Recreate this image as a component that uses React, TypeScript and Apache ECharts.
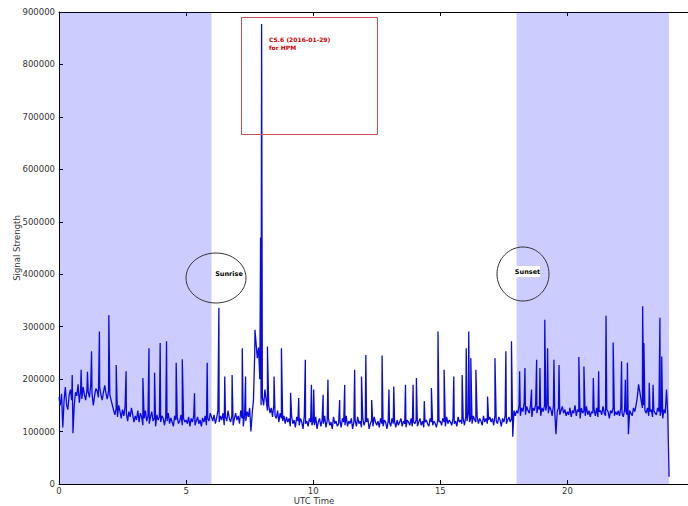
import React, { useEffect, useRef } from "react";
import * as echarts from "echarts";

// Baseline signal (thousands), sampled every 0.05 h, one row per hour
const baselineStep = 0.05;
const baselineK: number[] = [
  165,150,172,108,160,185,150,142,170,180,160,97,150,175,168,190,155,178,162,185,
  170,160,180,175,165,190,172,150,168,182,178,165,185,170,160,175,188,172,162,178,
  170,160,150,140,132,145,128,150,138,125,142,130,148,135,120,138,128,145,132,118,
  130,122,140,118,135,128,112,125,140,120,130,115,128,138,120,125,110,132,122,128,
  118,130,125,112,128,120,135,115,126,118,110,130,122,128,115,120,132,112,125,118,
  122,115,128,110,125,118,130,112,120,128,115,122,110,126,118,130,112,125,120,135,
  128,120,132,115,125,140,118,130,122,135,112,128,120,140,125,118,130,112,125,135,
  122,130,115,140,125,110,132,120,138,128,145,100,135,160,250,270,240,260,200,150,
  165,150,180,160,140,150,135,145,128,150,130,125,140,118,135,125,120,130,115,128,
  118,125,110,130,115,122,108,128,120,112,125,118,105,130,115,120,110,125,118,112,
  120,112,128,105,118,125,110,122,115,130,108,120,125,112,118,105,128,115,120,110,
  115,122,108,125,118,112,130,110,120,115,125,105,118,122,110,128,115,120,108,125,
  112,120,118,125,105,115,122,110,128,118,112,120,108,125,115,110,122,118,105,120,
  118,110,125,115,120,108,122,112,118,125,110,120,115,108,122,118,112,125,110,118,
  115,122,110,118,125,112,120,108,118,122,115,110,125,118,112,120,115,108,122,118,
  120,112,125,118,110,128,115,122,118,112,125,115,120,110,128,118,122,115,125,112,
  128,120,135,118,125,115,130,122,118,128,115,125,120,112,130,118,125,115,122,128,
  118,125,112,130,120,115,128,122,110,125,118,130,115,122,128,118,125,90,140,130,
  140,135,150,130,145,138,155,132,148,140,135,150,128,145,140,152,135,148,142,130,
  145,138,150,140,155,135,148,142,130,150,140,95,138,145,132,140,148,135,142,130,
  138,132,145,128,140,135,150,130,142,138,125,145,135,140,130,148,132,140,128,138,
  135,142,130,145,128,138,140,132,148,135,130,142,138,125,140,135,145,130,138,132,
  140,130,145,135,128,142,138,132,95,140,135,130,145,138,150,165,190,175,160,145,
  150,140,135,145,130,138,142,128,140,135,132,145,138,130,140,125,142,135,180,130,
  14,
];

// Spikes: [UTC hour, signal in thousands]
const spikesK: [number, number][] = [
  [0.52,208],[0.87,218],[1.12,214],[1.28,253],[1.59,291],[1.96,322],[2.25,227],[2.64,215],
  [3.3,202],[3.54,259],[3.76,212],[3.98,269],[4.23,272],[4.61,231],[4.85,238],[5.33,173],
  [5.83,231],[6.29,336],[6.52,205],[6.81,208],[7.21,259],[7.34,205],[7.71,294],[7.93,470],
  [7.97,877],[8.2,262],[8.46,205],[8.75,259],[9.11,174],[9.43,164],[9.69,237],[9.93,189],
  [10.02,180],[10.39,170],[10.58,199],[11.04,160],[11.24,189],[11.63,218],[11.9,205],[12.07,246],
  [12.3,160],[12.71,245],[12.98,180],[13.17,186],[13.63,189],[13.93,189],[14.06,202],[14.37,158],
  [14.65,183],[14.91,291],[15.15,218],[15.53,205],[15.86,208],[16.02,259],[16.12,291],[16.2,240],
  [16.4,218],[16.86,167],[17.15,240],[17.58,253],[17.8,272],[18.12,215],[18.33,221],[18.59,180],
  [18.79,237],[18.92,221],[19.11,313],[19.22,259],[19.47,237],[19.67,227],[20.45,242],[20.65,224],
  [21.02,202],[21.23,215],[21.52,321],[21.8,270],[22.13,234],[22.28,199],[22.36,231],[22.96,339],
  [23.01,269],[23.22,193],[23.37,189],[23.64,317],[23.71,243],
];

const nightSpans: [number, number][] = [[0, 6], [18, 24]];
const xTicks = { min: 0, max: 25, interval: 5 };
const yTicks = { min: 0, max: 900000, interval: 100000 };

export default function App() {
  const ref = useRef<HTMLDivElement>(null);
  useEffect(() => {
    if (!ref.current) return;
    const chart = echarts.init(ref.current, undefined, { renderer: "svg" });
    const pts: [number, number][] = baselineK.map((v, i) => [
      Math.round(i * baselineStep * 1000) / 1000,
      v * 1000,
    ]);
    spikesK.forEach(([t, v]) => pts.push([t, v * 1000]));
    pts.sort((a, b) => a[0] - b[0]);

    const font = "DejaVu Sans";
    const axisLabelStyle = { color: "#333", fontSize: 8.5, fontFamily: font };
    chart.setOption({
      animation: false,
      grid: {
        left: 59,
        right: 5.5,
        top: 12,
        bottom: 22,
        containLabel: false,
        outerBoundsMode: "none",
      },
      xAxis: [
        {
          type: "value",
          min: xTicks.min,
          max: xTicks.max,
          interval: xTicks.interval,
          axisLine: { lineStyle: { color: "#000", width: 1 } },
          axisTick: { inside: true, length: 4, lineStyle: { color: "#000" } },
          axisLabel: { ...axisLabelStyle, margin: 2, showMaxLabel: false },
          splitLine: { show: false },
        },
        {
          type: "value",
          position: "top",
          min: xTicks.min,
          max: xTicks.max,
          interval: xTicks.interval,
          axisLine: { lineStyle: { color: "#000", width: 1 } },
          axisTick: { inside: true, length: 4, lineStyle: { color: "#000" } },
          axisLabel: { show: false },
          splitLine: { show: false },
        },
      ],
      yAxis: {
        type: "value",
        min: yTicks.min,
        max: yTicks.max,
        interval: yTicks.interval,
        name: "Signal Strength",
        nameLocation: "middle",
        nameGap: 38,
        nameMoveOverlap: false,
        nameTextStyle: { ...axisLabelStyle },
        axisLine: { show: true, lineStyle: { color: "#000", width: 1 } },
        axisTick: { show: true, inside: true, length: 4, lineStyle: { color: "#000" } },
        axisLabel: { ...axisLabelStyle, margin: 4, formatter: (v: number) => String(v) },
        splitLine: { show: false },
      },
      series: [
        {
          type: "line",
          data: pts,
          showSymbol: false,
          symbol: "none",
          lineStyle: { color: "#0a0ae0", width: 1.3 },
          itemStyle: { color: "#0a0ae0" },
          markArea: {
            silent: true,
            itemStyle: { color: "rgba(0,0,255,0.2)" },
            data: nightSpans.map(([a, b]) => [{ xAxis: a }, { xAxis: b }]),
          },
        },
      ],
      graphic: [
        {
          type: "text",
          x: 314,
          y: 501,
          style: {
            text: "UTC Time",
            fill: "#333",
            fontSize: 8.5,
            fontFamily: font,
            textAlign: "center",
            textVerticalAlign: "middle",
            verticalAlign: "middle",
          },
        },
        {
          type: "rect",
          shape: { x: 241.5, y: 17.5, width: 136, height: 117 },
          style: { fill: "none", stroke: "#c8505a", lineWidth: 1 },
          z: 100,
        },
        {
          type: "text",
          x: 269,
          y: 35,
          style: {
            text: "CS.6 (2016-01-29)\nfor HPM",
            fill: "#cc0000",
            fontSize: 6,
            fontWeight: "bold",
            fontFamily: font,
            lineHeight: 8,
          },
          z: 100,
        },
        {
          type: "ellipse",
          shape: { cx: 216, cy: 278, rx: 30, ry: 25 },
          style: { fill: "none", stroke: "#333", lineWidth: 1 },
          z: 100,
        },
        {
          type: "text",
          x: 229,
          y: 274,
          style: {
            text: "Sunrise",
            fill: "#000",
            fontSize: 6.5,
            fontWeight: "bold",
            fontFamily: font,
            textAlign: "center",
            textVerticalAlign: "middle",
            verticalAlign: "middle",
          },
          z: 101,
        },
        {
          type: "ellipse",
          shape: { cx: 523, cy: 274, rx: 26, ry: 27 },
          style: { fill: "none", stroke: "#333", lineWidth: 1 },
          z: 100,
        },
        {
          type: "rect",
          shape: { x: 515, y: 266, width: 25, height: 11 },
          style: { fill: "#fff" },
          z: 100,
        },
        {
          type: "text",
          x: 527.5,
          y: 271.5,
          style: {
            text: "Sunset",
            fill: "#000",
            fontSize: 6.5,
            fontWeight: "bold",
            fontFamily: font,
            textAlign: "center",
            textVerticalAlign: "middle",
            verticalAlign: "middle",
          },
          z: 101,
        },
      ],
    });
    return () => chart.dispose();
  }, []);
  return (
    <div
      style={{
        position: "fixed",
        left: 0,
        top: 0,
        width: 688,
        height: 506,
        overflow: "hidden",
        background: "#fff",
      }}
    >
      <div ref={ref} style={{ width: 700, height: 506 }} />
    </div>
  );
}
